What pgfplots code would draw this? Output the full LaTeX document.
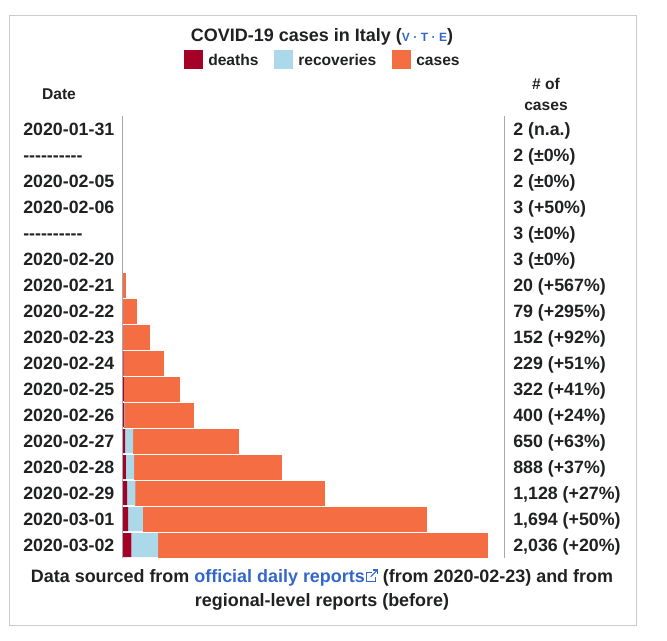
\documentclass[border=0pt]{standalone}
\usepackage{pgfplots}
\pgfplotsset{compat=1.18}
\usepackage{pgfplotstable}
\usepackage{fontspec}
\setmainfont{Liberation Sans}[Ligatures=TeXOff]

\definecolor{cdeath}{HTML}{A50026}
\definecolor{crecov}{HTML}{ABD9E9}
\definecolor{ccase}{HTML}{F46D43}
\definecolor{ctext}{HTML}{202122}
\definecolor{clink}{HTML}{3366CC}
\definecolor{cframe}{HTML}{C8CCD1}
\definecolor{cline}{HTML}{A2A9B1}

\newcommand{\rowfont}{\fontsize{13.35}{15}\bfseries\selectfont}
\newcommand{\footfont}{\fontsize{13.45}{15}\bfseries\selectfont}
\newcommand{\titlefont}{\fontsize{13.5}{15}\bfseries\selectfont}
\newcommand{\smallfont}{\fontsize{11.7}{14}\bfseries\selectfont}
\newcommand{\extlink}{\hspace{1pt}\tikz[x=1pt,y=1pt,baseline=0pt,line width=0.8pt,clink]{%
  \draw (4.5,7) -- (0.5,7) -- (0.5,0.5) -- (7,0.5) -- (7,3.5);
  \draw (3.5,4) -- (8.5,9);
  \draw (5.5,9) -- (8.5,9) -- (8.5,6);}}

% row: 0 = 2020-01-31 ... 16 = 2020-03-02
\pgfplotstableread{
row deaths recov active
0   0   0    2
1   0   0    2
2   0   0    2
3   0   0    3
4   0   0    3
5   0   0    3
6   1   0    19
7   2   0    77
8   3   0    149
9   7   1    221
10  10  1    311
11  12  3    385
12  17  45   588
13  21  46   821
14  29  46   1053
15  34  83   1577
16  52  149  1835
}\covid

\begin{document}
\begin{tikzpicture}[every node/.style={text=ctext}]
% page and frame, in pixel units from the top left
\begin{scope}[x=0.75pt,y=-0.75pt]
\path (0,0) rectangle (667,640);
\draw[cframe, line width=0.75pt] (9,15) rectangle (636,625);
\node[anchor=base, inner sep=0pt, font=\titlefont] at (322,41)
  {COVID-19 cases in Italy (\textcolor{clink}{\fontsize{9}{10}\selectfont V\hspace{2.6pt}·\hspace{2.6pt}T\hspace{2.6pt}·\hspace{2.6pt}E})};
% legend
\fill[cdeath] (184,50) rectangle (203,69);
\node[anchor=base west, inner sep=0pt, font=\smallfont] at (208,65) {deaths};
\fill[crecov] (274,50) rectangle (293,69);
\node[anchor=base west, inner sep=0pt, font=\smallfont] at (298,65) {recoveries};
\fill[ccase] (392,50) rectangle (411,69);
\node[anchor=base west, inner sep=0pt, font=\smallfont] at (416,65) {cases};
% column heads
\node[anchor=base, inner sep=0pt, font=\smallfont] at (59,99.5) {Date};
\node[anchor=base, inner sep=0pt, font=\smallfont] at (546,89.5) {\# of};
\node[anchor=base, inner sep=0pt, font=\smallfont] at (546,110) {cases};
% footer
\node[anchor=base, inner sep=0pt, font=\footfont] at (322,582)
  {Data sourced from \textcolor{clink}{official daily reports}\extlink{} (from 2020-02-23) and from};
\node[anchor=base, inner sep=0pt, font=\footfont] at (322,606)
  {regional-level reports (before)};
\end{scope}

\begin{axis}[
  at={(91.5pt,-418.5pt)}, anchor=south west,
  scale only axis, width=286.5pt, height=331.5pt,
  xbar stacked, bar width=18pt,
  xmin=0, xmax=2130, ymin=-0.5, ymax=16.5,
  y dir=reverse,
  xtick=\empty,
  ytick={0,...,16},
  yticklabels={2020-01-31,----------,2020-02-05,2020-02-06,----------,2020-02-20,
    2020-02-21,2020-02-22,2020-02-23,2020-02-24,2020-02-25,2020-02-26,
    2020-02-27,2020-02-28,2020-02-29,2020-03-01,2020-03-02},
  yticklabel style={anchor=base west, inner sep=0pt, xshift=-74.25pt, yshift=-4.9pt,
    font=\rowfont, text=ctext},
  axis line style={draw=none},
  major tick length=0pt,
  tick style={draw=none},
  clip=false,
]
\draw[cline, line width=0.75pt] (rel axis cs:0,0) -- (rel axis cs:0,1);
\draw[cline, line width=0.75pt] (rel axis cs:1,0) -- (rel axis cs:1,1);
\addplot[fill=cdeath, draw=none] table[x=deaths, y=row] {\covid};
\addplot[fill=crecov, draw=none] table[x=recov, y=row] {\covid};
\addplot[fill=ccase, draw=ccase, line width=0.4pt] table[x=active, y=row] {\covid};
\end{axis}

\begin{axis}[
  at={(91.5pt,-418.5pt)}, anchor=south west,
  scale only axis, width=286.5pt, height=331.5pt,
  xmin=0, xmax=2130, ymin=-0.5, ymax=16.5,
  y dir=reverse,
  xtick=\empty,
  ytick={0,...,16},
  yticklabel pos=right,
  yticklabels={2 (n.a.),2 (±0\%),2 (±0\%),3 (+50\%),3 (±0\%),3 (±0\%),
    20 (+567\%),79 (+295\%),152 (+92\%),229 (+51\%),322 (+41\%),400 (+24\%),
    650 (+63\%),888 (+37\%),{1,128 (+27\%)},{1,694 (+50\%)},{2,036 (+20\%)}},
  yticklabel style={anchor=base west, inner sep=0pt, xshift=6.75pt, yshift=-4.9pt,
    font=\rowfont, text=ctext},
  axis line style={draw=none},
  major tick length=0pt,
  tick style={draw=none},
]
\end{axis}
\end{tikzpicture}
\end{document}
